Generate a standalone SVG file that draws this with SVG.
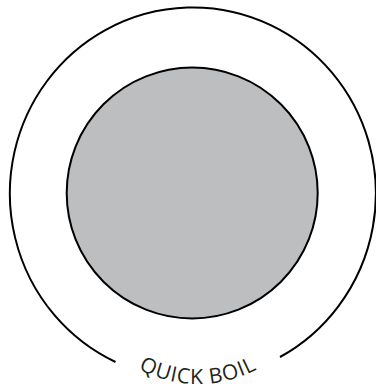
<svg xmlns="http://www.w3.org/2000/svg" width="376" height="387" viewBox="0 0 376 387">
  <style>
    .ring { fill: none; stroke: #000; stroke-width: 2; }
    .burner { fill: #bcbec0; stroke: #000; stroke-width: 2; }
    .label { font-family: "Open Sans", "Liberation Sans", sans-serif; font-size: 21px; fill: #231f20; letter-spacing: 0.8px; }
  </style>
  <defs>
    <path id="labelArc" d="M 110 348.2 A 126 126 0 0 0 286 348.2" fill="none"/>
  </defs>
  <rect width="376" height="387" fill="#fff"/>
  <g id="outer-ring">
    <path class="ring" d="M 115.5 362 A 183 186 0 1 1 280 357"/>
  </g>
  <g id="burner">
    <circle class="burner" cx="192.2" cy="193" r="125.5"/>
  </g>
  <g id="label">
    <text class="label"><textPath href="#labelArc" startOffset="50%" text-anchor="middle">QUICK BOIL</textPath></text>
  </g>
  <g id="connectors"/>
</svg>
